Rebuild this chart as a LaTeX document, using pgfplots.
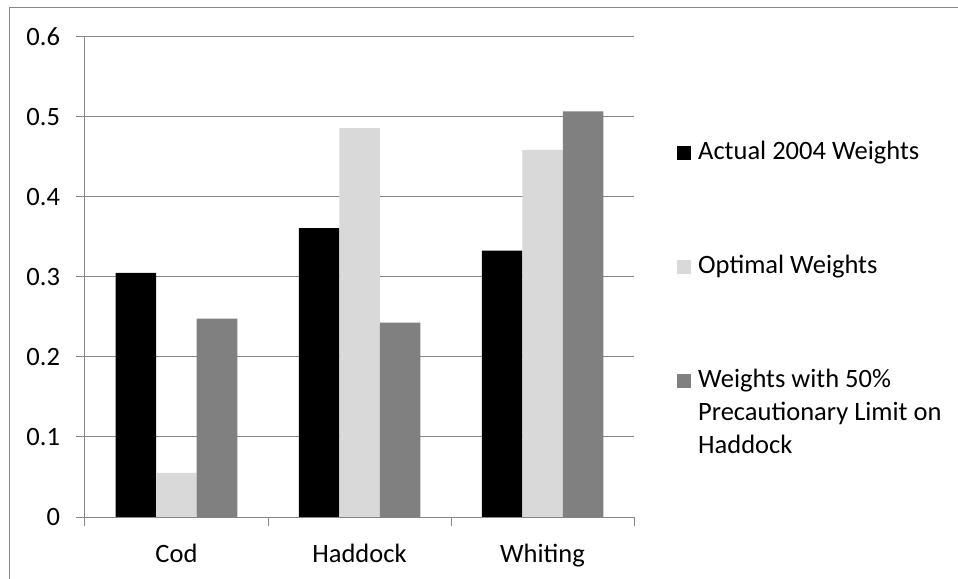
\documentclass[border=0pt]{standalone}
\usepackage{fontspec}
\setmainfont{Carlito}
\usepackage{pgfplots}
\pgfplotsset{compat=1.18}
\definecolor{gridgray}{RGB}{134,134,134}
\definecolor{lightbar}{RGB}{217,217,217}
\definecolor{darkbar}{RGB}{128,128,128}

\begin{document}
\fontsize{26.5bp}{33bp}\selectfont
\begin{tikzpicture}
% page area and the chart frame (left and top edges only)
\path[use as bounding box] (-85bp,-62bp) rectangle (873bp,517bp);
\draw[gridgray, line width=1bp] (-75.5bp,-62bp) -- (-75.5bp,509.5bp) -- (873bp,509.5bp);
\begin{axis}[
  name=ax, at={(0,0)}, anchor=south west,
  scale only axis, width=549bp, height=480bp,
  ybar=0pt, bar width=40.5bp,
  xmin=-0.5, xmax=2.5, ymin=0, ymax=0.6,
  xtick={0,1,2}, xticklabels={Cod,Haddock,Whiting},
  minor xtick={-0.5,0.5,1.5,2.5},
  ytick={0,0.1,0.2,0.3,0.4,0.5,0.6},
  axis x line*=bottom, axis y line*=left,
  axis line style={gridgray, line width=1bp, -},
  ymajorgrids, grid style={gridgray, line width=1bp},
  tick align=outside,
  major tick length=9bp, minor tick length=9bp,
  major x tick style={draw=none},
  minor x tick style={gridgray, line width=1bp},
  major y tick style={gridgray, line width=1bp},
  tick label style={font=\fontsize{26.5bp}{33bp}\selectfont, text=black},
  xticklabel style={yshift=-9bp},
  yticklabel style={xshift=-7bp, /pgf/number format/fixed, /pgf/number format/precision=1},
  /pgf/number format/assume math mode=true,
  legend cell align=left,
  legend style={at={(rel axis cs:1.0783,0.7933)}, anchor=north west,
    draw=none, fill=none, inner sep=0pt, row sep=87bp, column sep=7bp,
    nodes={inner sep=0pt},
    font=\fontsize{26.5bp}{33bp}\selectfont},
  legend image code/.code={\fill[#1] (0bp,-10bp) rectangle (14bp,4bp);},
]
\addplot[fill=black, draw=none] coordinates {(0,0.305) (1,0.361) (2,0.333)};
\addlegendentry{\strut Actual 2004 Weights}
\addplot[fill=lightbar, draw=none] coordinates {(0,0.055) (1,0.486) (2,0.459)};
\addlegendentry{\strut Optimal Weights}
\addplot[fill=darkbar, draw=none] coordinates {(0,0.248) (1,0.243) (2,0.507)};
\addlegendentry{\begin{tabular}[t]{@{}l@{}}Weights with 50\%\\Precautionary Limit on\\Haddock\end{tabular}}
\end{axis}
\end{tikzpicture}
\end{document}
